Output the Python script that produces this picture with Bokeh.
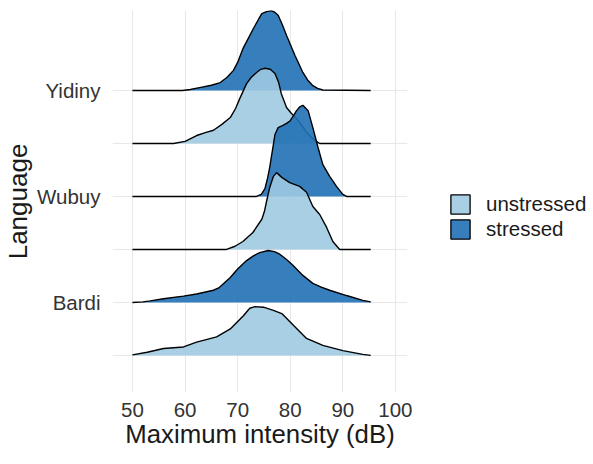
from bokeh.plotting import figure
from bokeh.layouts import row
from bokeh.models import ColumnDataSource, Range1d, FixedTicker, Legend, LegendItem
from bokeh.embed import file_html
from bokeh.resources import INLINE

# ---- data ----
languages = ["Bardi", "Wubuy", "Yidiny"]
stress_levels = ["unstressed", "stressed"]
x_ticks = [50, 60, 70, 80, 90, 100]

# ridge heights (in ridge-row units) at intensity values (dB)
yidiny_stressed_x = [50, 59.5, 61, 63, 65, 66.7, 68, 69.2, 70, 71, 72, 73, 74, 74.6, 75.5, 76.4, 77, 77.7,
                     78.5, 79.3, 80.1, 80.9, 81.7, 82.4, 83.3, 84.3, 85.2, 86.2, 95.3]
yidiny_stressed_h = [0, 0, 0.02, 0.06, 0.10, 0.15, 0.25, 0.38, 0.53, 0.79, 0.98, 1.17, 1.35, 1.45, 1.49, 1.51, 1.48, 1.42,
                     1.24, 1.04, 0.85, 0.66, 0.49, 0.34, 0.20, 0.09, 0.04, 0.01, 0]

yidiny_unstressed_x = [50, 57.8, 60, 62.2, 64, 65.4, 67, 68.6, 69.6, 70.5, 71.7, 72.6, 73.6, 74.4, 75.2, 76.2, 77.1,
                       77.8, 78.3, 79.3, 80.2, 81.2, 82.2, 83.1, 84, 84.7, 85.6, 95.3]
yidiny_unstressed_h = [0, 0, 0.04, 0.15, 0.21, 0.25, 0.36, 0.49, 0.66, 0.87, 1.13, 1.25, 1.34, 1.40, 1.42, 1.40, 1.32,
                       1.15, 0.94, 0.68, 0.57, 0.47, 0.34, 0.21, 0.12, 0.06, 0, 0]

wubuy_stressed_x = [50, 73.6, 74.5, 75.2, 75.7, 76.1, 76.4, 76.7, 77.1, 77.7, 78.6, 79.3, 80, 80.6, 81.2, 81.8, 82.4,
                    83.4, 84.3, 85.3, 86.2, 87.5, 88.8, 90, 90.7, 95.3]
wubuy_stressed_h = [0, 0, 0.04, 0.15, 0.35, 0.55, 0.74, 0.92, 1.17, 1.30, 1.34, 1.38, 1.43, 1.52, 1.62, 1.69, 1.72,
                    1.62, 1.30, 0.92, 0.60, 0.38, 0.19, 0.04, 0, 0]

wubuy_unstressed_x = [50, 67.9, 69.5, 71, 72.9, 74.6, 75.1, 75.5, 76.1, 76.8, 77.4, 78.4, 79.9, 81.8, 83.1, 84.3,
                      85.6, 86.9, 88.1, 89.4, 95.3]
wubuy_unstressed_h = [0, 0, 0.06, 0.15, 0.32, 0.57, 0.72, 0.91, 1.17, 1.38, 1.45, 1.36, 1.26, 1.19, 1.08, 0.81,
                      0.66, 0.42, 0.15, 0, 0]

bardi_stressed_x = [50, 52, 53.4, 55.9, 59.7, 62.2, 65.4, 66.5, 68.6, 70, 71.7, 73, 74.2, 75.8, 77, 78, 79.3, 80.5,
                    82.4, 84.3, 85.9, 87.5, 90.7, 93.8, 95.3]
bardi_stressed_h = [0, 0.01, 0.03, 0.07, 0.12, 0.16, 0.23, 0.28, 0.47, 0.63, 0.79, 0.88, 0.94, 0.98, 0.96, 0.91, 0.81,
                    0.70, 0.51, 0.36, 0.29, 0.23, 0.13, 0.04, 0.01]

bardi_unstressed_x = [50, 52.8, 55.9, 59.7, 62.2, 66, 68.6, 71.1, 72.3, 73.3, 74.9, 76.8, 78.4, 80.6, 83.1, 86.2,
                      90, 93.8, 95.3]
bardi_unstressed_h = [0.01, 0.06, 0.13, 0.16, 0.25, 0.35, 0.50, 0.75, 0.89, 0.92, 0.91, 0.85, 0.79, 0.57, 0.32, 0.19,
                      0.09, 0.02, 0]

ridges = [  # drawn top to bottom
    ("Yidiny", "stressed", yidiny_stressed_x, yidiny_stressed_h),
    ("Yidiny", "unstressed", yidiny_unstressed_x, yidiny_unstressed_h),
    ("Wubuy", "stressed", wubuy_stressed_x, wubuy_stressed_h),
    ("Wubuy", "unstressed", wubuy_unstressed_x, wubuy_unstressed_h),
    ("Bardi", "stressed", bardi_stressed_x, bardi_stressed_h),
    ("Bardi", "unstressed", bardi_unstressed_x, bardi_unstressed_h),
]

colors = {"unstressed": "#9ecae1", "stressed": "#2171b5"}
FONT = "Liberation Sans"
H = 456


def row_of(lang, stress):
    return languages.index(lang) * 2 + stress_levels.index(stress)


p = figure(width=425, height=H, output_backend="svg", toolbar_location=None,
           x_range=Range1d(46.2, 102.3), y_range=Range1d(-0.70, 6.51),
           min_border_left=104, min_border_right=18, min_border_top=10, min_border_bottom=64)

for lang, stress, xs, hs in ridges:
    base = row_of(lang, stress)
    src = ColumnDataSource(dict(x=xs, y1=[base] * len(xs), y2=[base + h for h in hs]))
    p.varea(x="x", y1="y1", y2="y2", source=src, fill_color=colors[stress], fill_alpha=0.9)
    p.line(x="x", y="y2", source=src, line_color="black", line_width=1.4)

# axes
p.xaxis.ticker = FixedTicker(ticks=x_ticks)
p.yaxis.ticker = FixedTicker(ticks=[row_of(l, "stressed") for l in languages])
p.yaxis.major_label_overrides = {row_of(l, "stressed"): l for l in languages}
p.xgrid.ticker = FixedTicker(ticks=x_ticks)
p.ygrid.ticker = FixedTicker(ticks=list(range(6)))
p.grid.grid_line_color = "#e8e8e8"
p.grid.grid_line_width = 1.1

for ax in (p.xaxis, p.yaxis):
    ax.axis_line_color = None
    ax.major_tick_line_color = None
    ax.minor_tick_line_color = None
    ax.major_label_text_font = FONT
    ax.major_label_text_font_size = "20.5px"
    ax.major_label_text_color = "#333333"
    ax.axis_label_text_font = FONT
    ax.axis_label_text_font_style = "normal"
    ax.axis_label_text_color = "#1a1a1a"

p.xaxis.axis_label_text_font_size = "25.8px"
p.yaxis.axis_label_text_font_size = "26px"
p.xaxis.axis_label = "Maximum intensity (dB)"
p.yaxis.axis_label = "Language"
p.xaxis.major_label_standoff = 4
p.xaxis.axis_label_standoff = 0
p.yaxis.major_label_standoff = 6
p.yaxis.axis_label_standoff = 1
p.outline_line_color = None

# legend in its own small figure to the right of the panel
leg = figure(width=168, height=H, output_backend="svg", toolbar_location=None,
             x_range=Range1d(0, 1), y_range=Range1d(0, 1),
             min_border_left=0, min_border_right=0, min_border_top=0, min_border_bottom=0)
leg.axis.visible = False
leg.grid.visible = False
leg.outline_line_color = None
legend_items = []
for stress in stress_levels:
    # key glyph source kept outside the visible range; only its legend swatch is shown
    r = leg.quad(left=[2], right=[3], top=[3], bottom=[2], fill_color=colors[stress], fill_alpha=0.9,
                 line_color="black", line_width=1.3)
    legend_items.append(LegendItem(label=stress, renderers=[r]))
legend = Legend(items=legend_items, location=(23, 151), padding=0, margin=0, spacing=1,
                glyph_width=24, glyph_height=24, label_height=24, label_standoff=14,
                label_text_font=FONT, label_text_font_size="20.5px", label_text_color="#1a1a1a",
                border_line_alpha=0, background_fill_alpha=0)
leg.add_layout(legend, "center")

layout = row(p, leg)
open("out.html", "w").write(file_html(layout, INLINE))
